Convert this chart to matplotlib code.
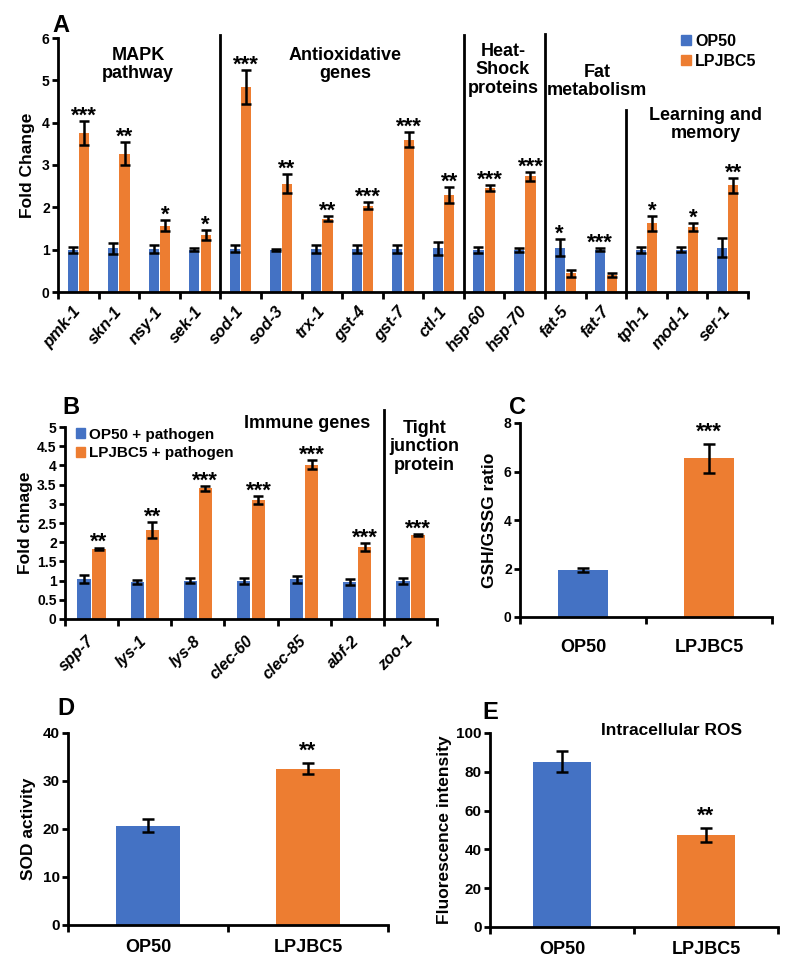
import numpy as np
import matplotlib
matplotlib.use("Agg")
import matplotlib.pyplot as plt
from matplotlib.patches import Patch

plt.rcParams['font.family'] = ['Liberation Sans', 'DejaVu Sans']
plt.rcParams['font.weight'] = 'bold'
plt.rcParams['axes.labelweight'] = 'bold'

BLUE = '#4472C4'
ORANGE = '#ED7D31'

# ---- panel A data ----
genes_a = ['pmk-1', 'skn-1', 'nsy-1', 'sek-1', 'sod-1', 'sod-3', 'trx-1', 'gst-4', 'gst-7',
           'ctl-1', 'hsp-60', 'hsp-70', 'fat-5', 'fat-7', 'tph-1', 'mod-1', 'ser-1']
op50_a = [1.0, 1.03, 1.02, 1.0, 1.02, 1.0, 1.02, 1.02, 1.02, 1.03, 1.0, 1.0, 1.05, 1.0, 1.0, 1.0, 1.05]
op50_a_err = [0.07, 0.13, 0.1, 0.03, 0.08, 0.02, 0.09, 0.1, 0.1, 0.15, 0.07, 0.05, 0.2, 0.03, 0.07, 0.06, 0.22]
lp_a = [3.75, 3.27, 1.57, 1.35, 4.85, 2.56, 1.73, 2.04, 3.6, 2.29, 2.45, 2.73, 0.44, 0.41, 1.62, 1.53, 2.52]
lp_a_err = [0.28, 0.27, 0.13, 0.12, 0.4, 0.22, 0.06, 0.08, 0.18, 0.18, 0.07, 0.1, 0.08, 0.05, 0.18, 0.1, 0.18]
stars_a = ['***', '**', '*', '*', '***', '**', '**', '***', '***', '**', '***', '***', '*', '***', '*', '*', '**']
groups_a = ['MAPK\npathway', 'Antioxidative\ngenes', 'Heat-\nShock\nproteins', 'Fat\nmetabolism',
            'Learning and\nmemory']

# ---- panel B data ----
genes_b = ['spp-7', 'lys-1', 'lys-8', 'clec-60', 'clec-85', 'abf-2', 'zoo-1']
op50_b = [1.05, 0.97, 1.0, 0.98, 1.03, 0.97, 1.0]
op50_b_err = [0.1, 0.05, 0.06, 0.08, 0.1, 0.08, 0.08]
lp_b = [1.83, 2.32, 3.4, 3.1, 4.02, 1.88, 2.18]
lp_b_err = [0.03, 0.2, 0.06, 0.1, 0.12, 0.1, 0.03]
stars_b = ['**', '**', '***', '***', '***', '***', '***']

# ---- panels C, D, E data ----
strains = ['OP50', 'LPJBC5']
gsh_ratio = [1.95, 6.55]
gsh_err = [0.08, 0.6]
sod_activity = [20.7, 32.6]
sod_err = [1.4, 1.1]
ros = [85.3, 47.5]
ros_err = [5.5, 3.7]

W, H = 792, 964
fig = plt.figure(figsize=(W / 100, H / 100), dpi=100)


def add_axes(left, right, top, bottom):
    return fig.add_axes([left / W, 1 - bottom / H, (right - left) / W, (bottom - top) / H])


def style_axes(ax, n, ytick_size):
    for s in ['top', 'right']:
        ax.spines[s].set_visible(False)
    for s in ['left', 'bottom']:
        ax.spines[s].set_linewidth(2)
    ax.set_xlim(0, n)
    ax.set_xticks(np.arange(n + 1))
    ax.set_xticklabels([])
    ax.tick_params(axis='x', which='major', length=5, width=2, direction='out')
    ax.tick_params(axis='y', length=4, width=2, direction='out', labelsize=ytick_size, pad=2)
    for lab in ax.get_yticklabels():
        lab.set_fontweight('bold')


def grouped(ax, op, op_err, lp, lp_err):
    x = np.arange(len(op)) + 0.5
    ekw = dict(elinewidth=1.8, capthick=1.8, capsize=3.5, ecolor='black')
    ax.bar(x - 0.14, op, 0.25, color=BLUE, yerr=op_err, error_kw=ekw, zorder=2)
    ax.bar(x + 0.14, lp, 0.25, color=ORANGE, yerr=lp_err, error_kw=ekw, zorder=2)
    return x


# ================= A =================
axA = add_axes(58, 748, 38, 292)
style_axes(axA, len(genes_a), 10)
axA.set_ylim(0, 6)
axA.set_yticks(range(0, 7))
xa = grouped(axA, op50_a, op50_a_err, lp_a, lp_a_err)
axA.set_xticks(xa, minor=True)
axA.set_xticklabels(genes_a, minor=True, rotation=50, ha='right', va='center',
                    rotation_mode='anchor', fontsize=12, fontweight='bold', style='italic')
axA.tick_params(axis='x', which='minor', length=0, pad=12)
axA.set_ylabel('Fold Change', fontsize=12.5, labelpad=5)
for i, s in enumerate(stars_a):
    if lp_a[i] < op50_a[i]:
        xs, top = xa[i] - 0.14, op50_a[i] + op50_a_err[i]
    else:
        xs, top = xa[i] + 0.14, lp_a[i] + lp_a_err[i]
    axA.annotate(s, (xs, top), xytext=(0, -4), textcoords='offset points',
                 ha='center', va='bottom', fontsize=16)
for b, ytop in [(4, 6.07), (10, 6.07), (12, 6.1), (14, 4.3)]:
    axA.plot([b, b], [0, ytop], color='black', lw=2, clip_on=False)
for (gx, gy), txt in zip([(1.97, 5.37), (7.07, 5.37), (10.96, 5.25), (13.28, 4.98), (15.96, 3.96)],
                         groups_a):
    axA.text(gx, gy, txt, ha='center', va='center', fontsize=13, linespacing=1.1)
axA.legend(handles=[Patch(color=BLUE, label='OP50'), Patch(color=ORANGE, label='LPJBC5')],
           loc='upper left', bbox_to_anchor=(673 / W, 1 - 26 / H), bbox_transform=fig.transFigure,
           frameon=False, fontsize=11.5, handlelength=0.6, handleheight=0.6,
           handletextpad=0.3, labelspacing=0.3, borderpad=0)

# ================= B =================
axB = add_axes(65, 437, 427, 619)
style_axes(axB, len(genes_b), 10)
axB.set_ylim(0, 5)
axB.set_yticks(np.arange(0, 5.01, 0.5))
axB.set_yticklabels([f'{v:g}' for v in np.arange(0, 5.01, 0.5)], fontweight='bold')
xb = grouped(axB, op50_b, op50_b_err, lp_b, lp_b_err)
axB.set_xticks(xb, minor=True)
axB.set_xticklabels(genes_b, minor=True, rotation=45, ha='right', va='center',
                    rotation_mode='anchor', fontsize=11.5, fontweight='bold', style='italic')
axB.tick_params(axis='x', which='minor', length=0, pad=14)
axB.set_ylabel('Fold chnage', fontsize=12.5, labelpad=3)
for i, s in enumerate(stars_b):
    axB.annotate(s, (xb[i] + 0.14, lp_b[i] + lp_b_err[i]), xytext=(0, -4), textcoords='offset points',
                 ha='center', va='bottom', fontsize=16)
axB.plot([6, 6], [0, 5.44], color='black', lw=2, clip_on=False)
axB.text(4.56, 5.1, 'Immune genes', ha='center', va='center', fontsize=13)
axB.text(6.76, 4.48, 'Tight\njunction\nprotein', ha='center', va='center', fontsize=13,
         linespacing=1.1)
axB.legend(handles=[Patch(color=BLUE, label='OP50 + pathogen'),
                    Patch(color=ORANGE, label='LPJBC5 + pathogen')],
           loc='upper left', bbox_to_anchor=(68 / W, 1 - 420 / H), bbox_transform=fig.transFigure,
           frameon=False, fontsize=11, handlelength=0.6, handleheight=0.6,
           handletextpad=0.3, labelspacing=0.3, borderpad=0)


def simple(ax, vals, errs, star, ymax, ystep, tsize, xpad):
    style_axes(ax, 2, tsize)
    x = np.arange(2) + 0.5
    ax.bar(x, vals, 0.4, color=[BLUE, ORANGE], yerr=errs,
           error_kw=dict(elinewidth=1.8, capthick=1.8, capsize=4, ecolor='black'), zorder=2)
    ax.set_ylim(0, ymax)
    ax.set_yticks(np.arange(0, ymax + 0.01, ystep))
    ax.set_xticks(x, minor=True)
    ax.set_xticklabels(strains, minor=True, fontsize=13, fontweight='bold')
    ax.tick_params(axis='x', which='minor', length=0, pad=xpad)
    ax.annotate(star, (x[1], vals[1] + errs[1]), xytext=(0, 1), textcoords='offset points',
                ha='center', va='bottom', fontsize=16)
    return x


# ================= C =================
axC = add_axes(520, 772, 423, 617)
simple(axC, gsh_ratio, gsh_err, '***', 8, 2, 10, 16)
axC.set_ylabel('GSH/GSSG ratio', fontsize=12.5, labelpad=5)

# ================= D =================
axD = add_axes(68, 388, 733, 925)
simple(axD, sod_activity, sod_err, '**', 40, 10, 11, 10)
axD.set_ylabel('SOD activity', fontsize=12.5, labelpad=5)

# ================= E =================
axE = add_axes(490, 778, 733, 927)
simple(axE, ros, ros_err, '**', 100, 20, 11, 10)
axE.set_ylabel('Fluorescence intensity', fontsize=12.5, labelpad=3)
axE.text(1.26, 101.5, 'Intracellular ROS', ha='center', va='center', fontsize=12.5)

# panel letters
for lbl, (px, py) in {'A': (52, 14), 'B': (62, 396), 'C': (509, 396),
                      'D': (57, 697), 'E': (482, 701)}.items():
    fig.text(px / W, 1 - py / H, lbl, fontsize=17, fontweight='bold', ha='left', va='top')

fig.savefig('out.png', dpi=100)
